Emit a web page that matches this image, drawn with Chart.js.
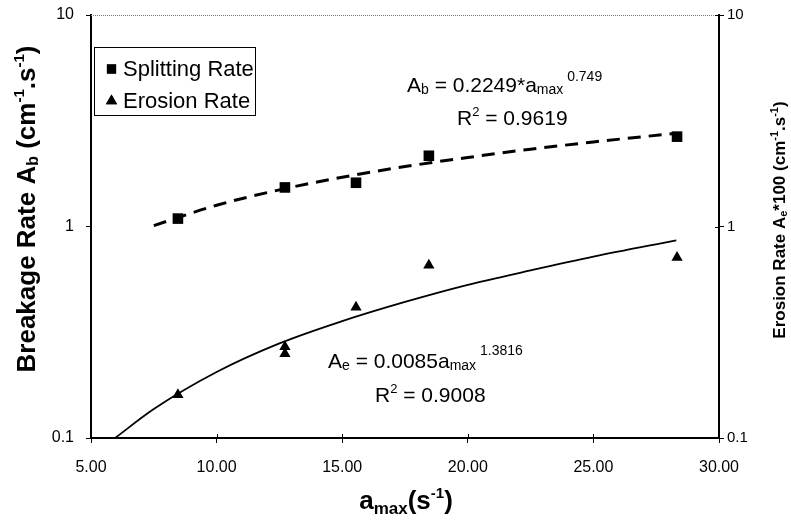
<!DOCTYPE html>
<html>
<head>
<meta charset="utf-8">
<title>Breakage rate vs a_max</title>
<script src="https://cdn.jsdelivr.net/npm/chart.js"></script>
<style>
  body { margin: 0; background: #fff; }
  canvas { display: block; }
</style>
</head>
<body>
<canvas id="chart" width="791" height="525"></canvas>
<script>
// measured points
const splitX = [8.46, 12.72, 15.55, 18.45, 28.33];
const splitY = [1.09, 1.53, 1.61, 2.16, 2.66];
const erosionX = [8.46, 12.72, 12.72, 15.55, 18.45, 28.33];
const erosionY = [0.16, 0.27, 0.25, 0.415, 0.655, 0.714];

// power-law trend lines
const splitFitX = [7.5, 10, 12.5, 15, 17.5, 20, 22.5, 25, 28.3];
const splitFitY = [1.01, 1.26, 1.49, 1.71, 1.92, 2.12, 2.32, 2.51, 2.76];
const erosionFitX = [5.96, 7.5, 10, 12.5, 15, 17.5, 20, 22.5, 25, 28.3];
const erosionFitY = [0.1, 0.137, 0.205, 0.28, 0.357, 0.44, 0.53, 0.62, 0.72, 0.86];

const xTicks = [5, 10, 15, 20, 25, 30];
const yTicks = [0.1, 1, 10];

const FONT = "'Liberation Sans', Arial, sans-serif";

const toPoints = (xs, ys) => xs.map((x, i) => ({ x: x, y: ys[i] }));

// text with sub/superscripts: each part is [text, size, bold, dy]
const drawRich = (ctx, parts, x, y, align, rotate) => {
  ctx.save();
  ctx.translate(x, y);
  if (rotate) ctx.rotate(-Math.PI / 2);
  ctx.fillStyle = "#000";
  ctx.textBaseline = "alphabetic";
  ctx.textAlign = "left";
  const widths = parts.map(p => {
    ctx.font = (p[2] ? "bold " : "") + p[1] + "px " + FONT;
    return ctx.measureText(p[0]).width;
  });
  const total = widths.reduce((a, b) => a + b, 0);
  let cx = align === "center" ? -total / 2 : 0;
  parts.forEach((p, i) => {
    ctx.font = (p[2] ? "bold " : "") + p[1] + "px " + FONT;
    ctx.fillText(p[0], cx, p[3] || 0);
    cx += widths[i];
  });
  ctx.restore();
};

const annotations = {
  id: "annotations",
  afterDraw(chart) {
    const ctx = chart.ctx;
    const area = chart.chartArea;

    // dotted top frame
    ctx.save();
    ctx.strokeStyle = "#777";
    ctx.lineWidth = 1;
    ctx.setLineDash([1, 1]);
    ctx.beginPath();
    ctx.moveTo(area.left, area.top + 0.5);
    ctx.lineTo(area.right, area.top + 0.5);
    ctx.stroke();
    ctx.restore();

    // x ticks also poke up into the plot
    ctx.save();
    ctx.strokeStyle = "#000";
    ctx.lineWidth = 1;
    const xs = chart.scales.x;
    xTicks.forEach(v => {
      const px = Math.round(xs.getPixelForValue(v)) + 0.5;
      ctx.beginPath();
      ctx.moveTo(px, area.bottom);
      ctx.lineTo(px, area.bottom - 4);
      ctx.stroke();
    });
    const yr = chart.scales.y2;
    yTicks.forEach(v => {
      const py = Math.round(yr.getPixelForValue(v)) + 0.5;
      ctx.beginPath();
      ctx.moveTo(area.right, py);
      ctx.lineTo(area.right - 4, py);
      ctx.stroke();
    });
    ctx.restore();

    // axis titles
    drawRich(ctx, [
      ["Breakage Rate A", 26, true], ["b", 16, true, 3], [" (cm", 26, true],
      ["-1", 15, true, -11], [".s", 26, true], ["-1", 15, true, -11], [")", 26, true]
    ], 35, 209, "center", true);

    drawRich(ctx, [
      ["Erosion Rate A", 17, true], ["e", 11, true, 2], ["*100 (cm", 17, true],
      ["-1", 11, true, -7], [".s", 17, true], ["-1", 11, true, -7], [")", 17, true]
    ], 785, 220, "center", true);

    drawRich(ctx, [
      ["a", 26, true], ["max", 17, true, 5], ["(s", 26, true], ["-1", 15, true, -11], [")", 26, true]
    ], 406, 509, "center", false);

    // trend line equations
    drawRich(ctx, [
      ["A", 21], ["b", 14, false, 2], [" = 0.2249*a", 21], ["max", 14, false, 2], [" 0.749", 14, false, -11]
    ], 407, 92, "left");
    drawRich(ctx, [["R", 21], ["2", 13, false, -9], [" = 0.9619", 21]], 457, 125, "left");
    drawRich(ctx, [
      ["A", 21], ["e", 14, false, 2], [" = 0.0085a", 21], ["max", 14, false, 2], [" 1.3816", 14, false, -13]
    ], 328, 368, "left");
    drawRich(ctx, [["R", 21], ["2", 13, false, -9], [" = 0.9008", 21]], 375, 402, "left");

    // legend box
    ctx.save();
    ctx.strokeStyle = "#000";
    ctx.lineWidth = 1;
    ctx.strokeRect(94.5, 47.5, 161, 68);
    ctx.fillStyle = "#000";
    ctx.font = "22px " + FONT;
    const items = chart.data.datasets.filter(d => d.showLine === false);
    items.forEach((d, i) => {
      const cy = 69 + i * 32;
      Chart.helpers.drawPoint(ctx, { pointStyle: d.pointStyle, radius: 6.5, rotation: 0 }, 111.5, cy);
      ctx.fill();
      ctx.fillText(d.label, 123, cy + 7);
    });
    ctx.restore();
  }
};

const yAxis = position => ({
  type: "logarithmic",
  position: position,
  min: 0.1,
  max: 10,
  afterBuildTicks: scale => { scale.ticks = yTicks.map(v => ({ value: v })); },
  afterFit: scale => {
    scale.width = position === "left" ? 91 : 72;
    scale.paddingTop = 0;
    scale.paddingBottom = 0;
  },
  ticks: {
    color: "#000",
    font: { family: FONT, size: position === "left" ? 16 : 15 },
    padding: position === "left" ? 12 : 3,
    callback: v => String(v)
  },
  grid: { drawOnChartArea: false, color: "#000", tickLength: 5 },
  border: { color: "#000", width: 2 }
});

new Chart(document.getElementById("chart").getContext("2d"), {
  type: "scatter",
  data: {
    datasets: [
      {
        label: "Splitting Rate",
        data: toPoints(splitX, splitY),
        pointStyle: "rect",
        pointRadius: 7.5,
        backgroundColor: "#000",
        borderColor: "#000",
        borderWidth: 0,
        showLine: false
      },
      {
        label: "Erosion Rate",
        data: toPoints(erosionX, erosionY),
        pointStyle: "triangle",
        pointRadius: 6.5,
        backgroundColor: "#000",
        borderColor: "#000",
        borderWidth: 0,
        showLine: false
      },
      {
        label: "Splitting fit",
        data: toPoints(splitFitX, splitFitY),
        showLine: true,
        borderColor: "#000",
        borderWidth: 3,
        borderDash: [13, 8],
        pointRadius: 0,
        cubicInterpolationMode: "monotone"
      },
      {
        label: "Erosion fit",
        data: toPoints(erosionFitX, erosionFitY),
        showLine: true,
        borderColor: "#000",
        borderWidth: 1.8,
        pointRadius: 0,
        cubicInterpolationMode: "monotone"
      }
    ]
  },
  options: {
    responsive: false,
    animation: false,
    devicePixelRatio: 1,
    layout: { padding: { top: 15, left: 0, right: 0, bottom: 0 } },
    plugins: { legend: { display: false }, tooltip: { enabled: false } },
    scales: {
      x: {
        type: "linear",
        position: "bottom",
        min: 5,
        max: 30,
        afterBuildTicks: scale => { scale.ticks = xTicks.map(v => ({ value: v })); },
        afterFit: scale => { scale.height = 87; },
        ticks: {
          color: "#000",
          font: { family: FONT, size: 16 },
          padding: 15,
          maxRotation: 0,
          callback: v => Number(v).toFixed(2)
        },
        grid: { drawOnChartArea: false, color: "#000", tickLength: 5 },
        border: { color: "#000", width: 2 }
      },
      y: yAxis("left"),
      y2: yAxis("right")
    }
  },
  plugins: [annotations]
});
</script>
</body>
</html>
